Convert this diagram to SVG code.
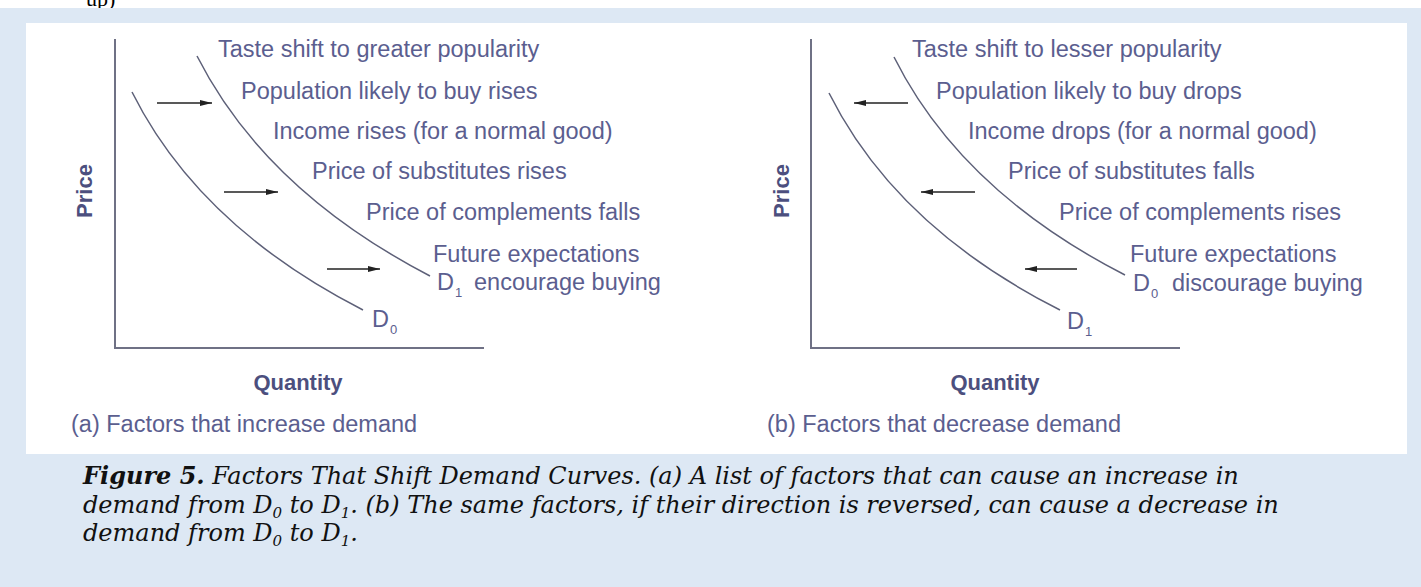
<svg xmlns="http://www.w3.org/2000/svg" width="1421" height="587" viewBox="0 0 1421 587">
  <style>
    .lbl { font-family: "Liberation Sans", Arial, sans-serif; font-size: 23.5px; fill: #5b5e8f; }
    .sub { font-family: "Liberation Sans", Arial, sans-serif; font-size: 13px; fill: #5b5e8f; }
    .ax { font-family: "Liberation Sans", Arial, sans-serif; font-size: 22px; font-weight: bold; fill: #4c4f7e; }
    .axis { stroke: #6f7185; stroke-width: 2; fill: none; }
    .curve { stroke: #5d6078; stroke-width: 1.5; fill: none; }
    .arrow { stroke: #222; stroke-width: 1.6; fill: none; marker-end: url(#head); }
    .cap { font-family: "DejaVu Serif", "Liberation Serif", serif; font-size: 24px; font-style: italic; fill: #111; }
    .top { font-family: "Liberation Serif", serif; font-size: 22px; fill: #000; }
  </style>
  <defs>
    <marker id="head" markerUnits="userSpaceOnUse" markerWidth="12" markerHeight="8" refX="12" refY="4" orient="auto">
      <path d="M0,1 L12,4 L0,7 z" fill="#222"/>
    </marker>
  </defs>

  <g id="background">
    <rect x="0" y="0" width="1421" height="587" fill="#ffffff"/>
    <text class="top" x="86" y="6">up)</text>
    <rect x="0" y="8" width="1421" height="579" fill="#dde8f4"/>
    <rect x="26" y="23" width="1381" height="431" fill="#ffffff"/>
  </g>

  <g id="panel-a">
    <path class="axis" d="M115,39 V348 H484"/>
    <path id="a-d1" class="curve" d="M197,56 Q265,190 430,276"/>
    <path id="a-d0" class="curve" d="M132,92 Q199,226 363,310"/>
    <text class="ax" transform="translate(92,191) rotate(-90)" text-anchor="middle">Price</text>
    <text class="ax" x="298" y="390" text-anchor="middle">Quantity</text>
    <text class="lbl" x="218" y="57">Taste shift to greater popularity</text>
    <text class="lbl" x="241" y="99">Population likely to buy rises</text>
    <text class="lbl" x="273" y="139">Income rises (for a normal good)</text>
    <text class="lbl" x="312" y="179">Price of substitutes rises</text>
    <text class="lbl" x="366" y="220">Price of complements falls</text>
    <text class="lbl" x="433" y="262">Future expectations</text>
    <text class="lbl" x="437" y="290">D</text>
    <text class="sub" x="455" y="297">1</text>
    <text class="lbl" x="474" y="290">encourage buying</text>
    <text class="lbl" x="372" y="327">D</text>
    <text class="sub" x="390" y="334">0</text>
    <text class="lbl" x="71" y="432">(a) Factors that increase demand</text>
  </g>

  <g id="panel-b">
    <path class="axis" d="M811,39 V348 H1180"/>
    <path id="b-d0" class="curve" d="M894,57 Q961,191 1125,275"/>
    <path id="b-d1" class="curve" d="M829,93 Q896,227 1060,310"/>
    <text class="ax" transform="translate(789,191) rotate(-90)" text-anchor="middle">Price</text>
    <text class="ax" x="995" y="390" text-anchor="middle">Quantity</text>
    <text class="lbl" x="912" y="57">Taste shift to lesser popularity</text>
    <text class="lbl" x="936" y="99">Population likely to buy drops</text>
    <text class="lbl" x="968" y="139">Income drops (for a normal good)</text>
    <text class="lbl" x="1008" y="179">Price of substitutes falls</text>
    <text class="lbl" x="1059" y="220">Price of complements rises</text>
    <text class="lbl" x="1130" y="262">Future expectations</text>
    <text class="lbl" x="1133" y="291">D</text>
    <text class="sub" x="1151" y="298">0</text>
    <text class="lbl" x="1172" y="291">discourage buying</text>
    <text class="lbl" x="1067" y="329">D</text>
    <text class="sub" x="1085" y="336">1</text>
    <text class="lbl" x="767" y="432">(b) Factors that decrease demand</text>
  </g>

  <g id="connectors">
    <path class="arrow" d="M157,103 H212"/>
    <path class="arrow" d="M224,192 H278"/>
    <path class="arrow" d="M327,269 H380"/>
    <path class="arrow" d="M908,103 H854"/>
    <path class="arrow" d="M975,192 H921"/>
    <path class="arrow" d="M1077,269 H1025"/>
  </g>

  <g id="caption">
    <text class="cap" x="83" y="484"><tspan font-weight="bold">Figure 5.</tspan> Factors That Shift Demand Curves. (a) A list of factors that can cause an increase in</text>
    <text class="cap" x="83" y="513">demand from D<tspan font-size="15" dy="5">0</tspan><tspan dy="-5"> to D</tspan><tspan font-size="15" dy="5">1</tspan><tspan dy="-5">. (b) The same factors, if their direction is reversed, can cause a decrease in</tspan></text>
    <text class="cap" x="83" y="541">demand from D<tspan font-size="15" dy="5">0</tspan><tspan dy="-5"> to D</tspan><tspan font-size="15" dy="5">1</tspan><tspan dy="-5">.</tspan></text>
  </g>
</svg>
